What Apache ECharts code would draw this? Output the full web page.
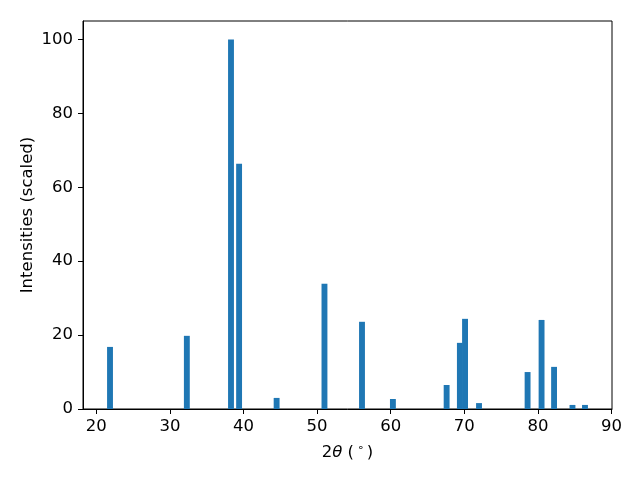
<!DOCTYPE html>
<html>
<head>
<meta charset="utf-8">
<script src="https://cdn.jsdelivr.net/npm/echarts@6/dist/echarts.min.js"></script>
<style>html,body{margin:0;padding:0;background:#fff;}#c{width:640px;height:480px;}</style>
</head>
<body>
<div id="c"></div>
<script>
const twoTheta = [21.86, 32.3, 38.3, 39.4, 44.5, 51.0, 56.1, 60.3, 67.6, 69.4, 70.1, 72.0, 78.6, 80.5, 82.2, 84.7, 86.4];
const intensity = [16.8, 19.8, 100, 66.4, 3.0, 33.9, 23.6, 2.7, 6.5, 17.9, 24.4, 1.6, 10.0, 24.1, 11.4, 1.1, 1.1];
const xTicks = [20, 30, 40, 50, 60, 70, 80, 90];
const yTicks = [0, 20, 40, 60, 80, 100];
const BAR_W = 0.8;

const font = 'DejaVu Sans';
const FS = 16.5;
const chart = echarts.init(document.getElementById('c'), null, {renderer: 'canvas'});
const data = twoTheta.map((x, i) => [x, intensity[i]]);
chart.setOption({
  animation: false,
  backgroundColor: '#fff',
  grid: {left: 83, right: 28, top: 21, bottom: 71, show: true, borderColor: '#000', borderWidth: 1, backgroundColor: 'transparent'},
  xAxis: {
    type: 'value', min: 18.19, max: 90.07,
    name: '{n|2}{i|θ}{n| (}{s|∘}{n|)}',
    nameLocation: 'middle', nameGap: 34,
    nameTextStyle: {rich: {
      n: {fontFamily: font, fontSize: FS, color: '#000'},
      i: {fontFamily: font, fontSize: FS, fontStyle: 'italic', color: '#000'},
      s: {fontFamily: font, fontSize: 11, color: '#000', verticalAlign: 'bottom', padding: [0, 3, 9, 3]}
    }},
    axisLine: {show: true, lineStyle: {color: '#000', width: 1}},
    axisTick: {show: true, length: 5, lineStyle: {color: '#000'}, customValues: xTicks},
    axisLabel: {fontFamily: font, fontSize: FS, color: '#000', margin: 9, customValues: xTicks},
    splitLine: {show: false}
  },
  yAxis: {
    type: 'value', min: 0, max: 105,
    name: 'Intensities (scaled)', nameLocation: 'middle', nameGap: 47, nameMoveOverlap: false,
    nameTextStyle: {fontFamily: font, fontSize: FS, color: '#000'},
    axisLine: {show: true, lineStyle: {color: '#000', width: 1}},
    axisTick: {show: true, length: 5, lineStyle: {color: '#000'}, customValues: yTicks},
    axisLabel: {fontFamily: font, fontSize: FS, color: '#000', margin: 10, customValues: yTicks},
    splitLine: {show: false}
  },
  series: [{
    type: 'custom',
    data: data,
    renderItem: function (params, api) {
      const x = api.value(0), y = api.value(1);
      const p0 = api.coord([x - BAR_W / 2, y]);
      const p1 = api.coord([x + BAR_W / 2, 0]);
      return {type: 'rect', shape: {x: p0[0], y: p0[1], width: p1[0] - p0[0], height: p1[1] - p0[1]}, style: {fill: '#1f77b4'}};
    }
  }]
});
</script>
</body>
</html>
